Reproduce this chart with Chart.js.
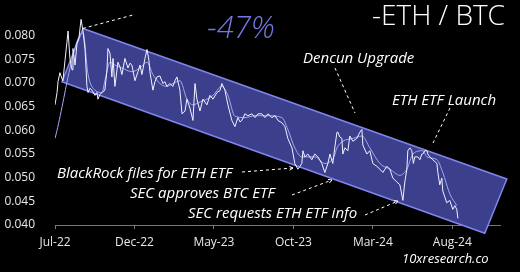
<!DOCTYPE html>
<html>
<head>
<meta charset="utf-8">
<script src="https://cdn.jsdelivr.net/npm/chart.js@4"></script>
<style>
html,body{margin:0;padding:0;background:#000;}
#wrap{width:520px;height:272px;position:relative;}
</style>
</head>
<body>
<div id="wrap"><canvas id="c"></canvas></div>
<script>
// months since Jul-2022
const priceMonths = [0.00,0.13,0.19,0.31,0.44,0.50,0.63,0.75,0.82,0.94,1.07,1.13,1.26,1.38,1.51,1.64,1.76,1.89,2.01,2.08,2.20,2.33,2.52,2.64,2.70,2.83,2.96,3.14,3.27,3.33,3.46,3.58,3.65,3.77,3.96,4.09,4.21,4.40,4.59,4.72,4.84,5.03,5.22,5.35,5.47,5.66,5.79,5.91,5.97,6.16,6.29,6.42,6.60,6.79,6.92,7.04,7.23,7.42,7.55,7.67,7.86,7.99,8.18,8.30,8.49,8.68,8.81,8.93,9.12,9.31,9.56,9.75,9.94,10.19,10.38,10.50,10.69,10.88,11.13,11.32,11.51,11.64,11.76,11.95,12.14,12.39,12.58,12.77,13.02,13.21,13.40,13.65,13.84,14.03,14.28,14.47,14.65,14.91,15.09,15.28,15.41,15.53,15.60,15.72,15.91,16.16,16.35,16.54,16.79,16.98,17.17,17.30,17.48,17.61,17.74,17.80,17.92,18.05,18.11,18.24,18.43,18.55,18.74,18.99,19.18,19.31,19.37,19.62,19.81,20.00,20.25,20.44,20.63,20.88,21.07,21.26,21.51,21.70,21.89,22.01,22.14,22.20,22.33,22.45,22.55,22.64,22.77,22.83,22.96,23.08,23.14,23.27,23.40,23.46,23.58,23.77,24.03,24.09,24.21,24.34,24.40,24.65,24.84,25.03,25.16,25.28,25.35];
const priceValues = [0.0654,0.0680,0.0703,0.0722,0.0709,0.0705,0.0748,0.0786,0.0810,0.0752,0.0728,0.0773,0.0738,0.0783,0.0796,0.0835,0.0810,0.0771,0.0693,0.0680,0.0689,0.0685,0.0674,0.0680,0.0666,0.0676,0.0680,0.0685,0.0728,0.0773,0.0763,0.0713,0.0752,0.0693,0.0744,0.0734,0.0718,0.0752,0.0732,0.0742,0.0738,0.0705,0.0724,0.0738,0.0718,0.0752,0.0771,0.0748,0.0724,0.0685,0.0703,0.0713,0.0715,0.0699,0.0703,0.0693,0.0699,0.0693,0.0705,0.0713,0.0685,0.0635,0.0641,0.0666,0.0647,0.0621,0.0699,0.0666,0.0641,0.0666,0.0654,0.0674,0.0666,0.0680,0.0684,0.0699,0.0685,0.0654,0.0621,0.0608,0.0627,0.0618,0.0621,0.0635,0.0631,0.0635,0.0627,0.0635,0.0635,0.0627,0.0635,0.0627,0.0631,0.0621,0.0616,0.0608,0.0583,0.0563,0.0530,0.0518,0.0524,0.0530,0.0557,0.0544,0.0550,0.0538,0.0550,0.0544,0.0530,0.0511,0.0530,0.0550,0.0530,0.0565,0.0596,0.0596,0.0586,0.0583,0.0550,0.0563,0.0557,0.0588,0.0577,0.0583,0.0596,0.0602,0.0569,0.0550,0.0557,0.0530,0.0524,0.0518,0.0511,0.0524,0.0518,0.0499,0.0491,0.0485,0.0452,0.0491,0.0518,0.0557,0.0563,0.0557,0.0530,0.0544,0.0544,0.0544,0.0538,0.0550,0.0550,0.0557,0.0557,0.0550,0.0544,0.0538,0.0530,0.0511,0.0485,0.0499,0.0472,0.0447,0.0452,0.0433,0.0441,0.0433,0.0414];
const maMonths = [0.00,1.76,2.08,2.52,2.96,3.14,3.46,3.77,4.21,4.84,5.35,5.79,6.16,6.60,7.04,7.42,7.86,8.30,8.68,9.12,9.56,9.94,10.50,10.88,11.32,11.95,12.58,13.40,14.28,14.65,15.09,15.53,16.35,16.98,17.55,17.74,18.11,18.74,19.31,19.81,20.44,21.07,21.70,22.14,22.52,23.14,23.40,24.03,24.40,24.84,25.28];
const maValues = [0.0583,0.0806,0.0718,0.0685,0.0680,0.0705,0.0744,0.0738,0.0732,0.0724,0.0732,0.0744,0.0718,0.0699,0.0693,0.0699,0.0705,0.0666,0.0654,0.0660,0.0666,0.0674,0.0693,0.0674,0.0630,0.0627,0.0631,0.0631,0.0627,0.0602,0.0563,0.0544,0.0544,0.0530,0.0544,0.0563,0.0577,0.0583,0.0588,0.0563,0.0530,0.0518,0.0505,0.0518,0.0550,0.0557,0.0544,0.0538,0.0511,0.0466,0.0441];
const tickMonths = [0,5,10,15,20,25];
const tickLabels = ['Jul-22','Dec-22','May-23','Oct-23','Mar-24','Aug-24'];
const yTicks = [0.040,0.045,0.050,0.055,0.060,0.065,0.070,0.075,0.080];
// trend channel corners (months, value)
const channelMonths = [1.76,28.43,27.04,0.44];
const channelValues = [0.08155,0.04971,0.03826,0.07029];

const priceData = priceMonths.map((m,i)=>({x:m,y:priceValues[i]}));
const maData = maMonths.map((m,i)=>({x:m,y:maValues[i]}));

function dashed(ctx, x1,y1,x2,y2, arrow){
  ctx.save();
  ctx.strokeStyle='#ffffff';ctx.lineWidth=1;ctx.setLineDash([3,3]);
  ctx.beginPath();ctx.moveTo(x1,y1);ctx.lineTo(x2,y2);ctx.stroke();
  if(arrow){
    ctx.setLineDash([]);
    const a=Math.atan2(y2-y1,x2-x1);
    ctx.beginPath();
    ctx.moveTo(x2-4*Math.cos(a-0.5),y2-4*Math.sin(a-0.5));
    ctx.lineTo(x2,y2);
    ctx.lineTo(x2-4*Math.cos(a+0.5),y2-4*Math.sin(a+0.5));
    ctx.stroke();
  }
  ctx.restore();
}

const channelPlugin = {
  id:'channel',
  beforeDatasetsDraw(chart){
    const {ctx, scales:{x,y}} = chart;
    ctx.save();
    ctx.beginPath();
    channelMonths.forEach((m,i)=>{
      const px=x.getPixelForValue(m), py=y.getPixelForValue(channelValues[i]);
      if(i===0)ctx.moveTo(px,py);else ctx.lineTo(px,py);
    });
    ctx.closePath();
    ctx.fillStyle='#3c3f8c';
    ctx.fill();
    ctx.strokeStyle='#8085ee';
    ctx.lineWidth=1.5;
    ctx.stroke();
    ctx.restore();
  },
  afterDraw(chart){
    const {ctx, scales:{x,y}} = chart;
    const tlx=x.getPixelForValue(channelMonths[0]), tly=y.getPixelForValue(channelValues[0]);
    dashed(ctx,tlx,tly,tlx+52,tly-14,false);
    dashed(ctx,335,68,355,113,false);
    dashed(ctx,450,108,433,143,false);
    dashed(ctx,242,172,293,168,true);
    dashed(ctx,292,195,332,180,true);
    dashed(ctx,365,215,398,201,true);
    ctx.save();
    ctx.textBaseline='middle';ctx.textAlign='left';
    ctx.fillStyle='#ffffff';
    ctx.font='italic 15px "Open Sans"';
    ctx.fillText('Dencun Upgrade',303,59);
    ctx.fillText('ETH ETF Launch',392,101);
    ctx.fillText('BlackRock files for ETH ETF',57,174);
    ctx.fillText('SEC approves BTC ETF',130,194);
    ctx.fillText('SEC requests ETH ETF info',188,214);
    ctx.font='italic 13px "Open Sans"';
    ctx.fillText('10xresearch.co',402,259);
    ctx.font='300 28px "Open Sans"';
    ctx.fillText('-ETH / BTC',372,17);
    ctx.fillStyle='#7478e4';
    ctx.font='italic 300 31px "Open Sans"';
    ctx.fillText('-47%',207,29);
    ctx.restore();
  }
};

new Chart(document.getElementById('c'),{
  type:'line',
  data:{datasets:[
    {data:priceData,borderColor:'#f2f2ff',borderWidth:1,pointRadius:0,tension:0},
    {data:maData,borderColor:'#a4a8f2',borderWidth:1,pointRadius:0,tension:0.4,cubicInterpolationMode:'monotone'}
  ]},
  options:{
    responsive:true,maintainAspectRatio:false,animation:false,
    layout:{padding:{left:0,right:20,top:0,bottom:0}},
    plugins:{legend:{display:false},tooltip:{enabled:false}},
    scales:{
      x:{type:'linear',min:0,max:28,
        afterBuildTicks(s){s.ticks=tickMonths.map(v=>({value:v}));},
        afterFit(s){s.height=47;},
        ticks:{color:'#e8e8e8',font:{family:'"Open Sans"',size:12},padding:6,maxRotation:0,autoSkip:false,
          callback:(v)=>{const i=tickMonths.indexOf(v);return i>=0?tickLabels[i]:'';}},
        grid:{drawOnChartArea:false,color:'#777',tickLength:4},
        border:{color:'#777',width:1}
      },
      y:{type:'linear',min:0.040,max:0.0835,
        afterBuildTicks(s){s.ticks=yTicks.map(v=>({value:v}));},
        afterFit(s){s.width=55;},
        ticks:{color:'#e8e8e8',font:{family:'"Open Sans"',size:12},padding:12,callback:(v)=>v.toFixed(3)},
        grid:{display:false},border:{display:false}
      }
    }
  },
  plugins:[channelPlugin]
});
</script>
</body>
</html>
